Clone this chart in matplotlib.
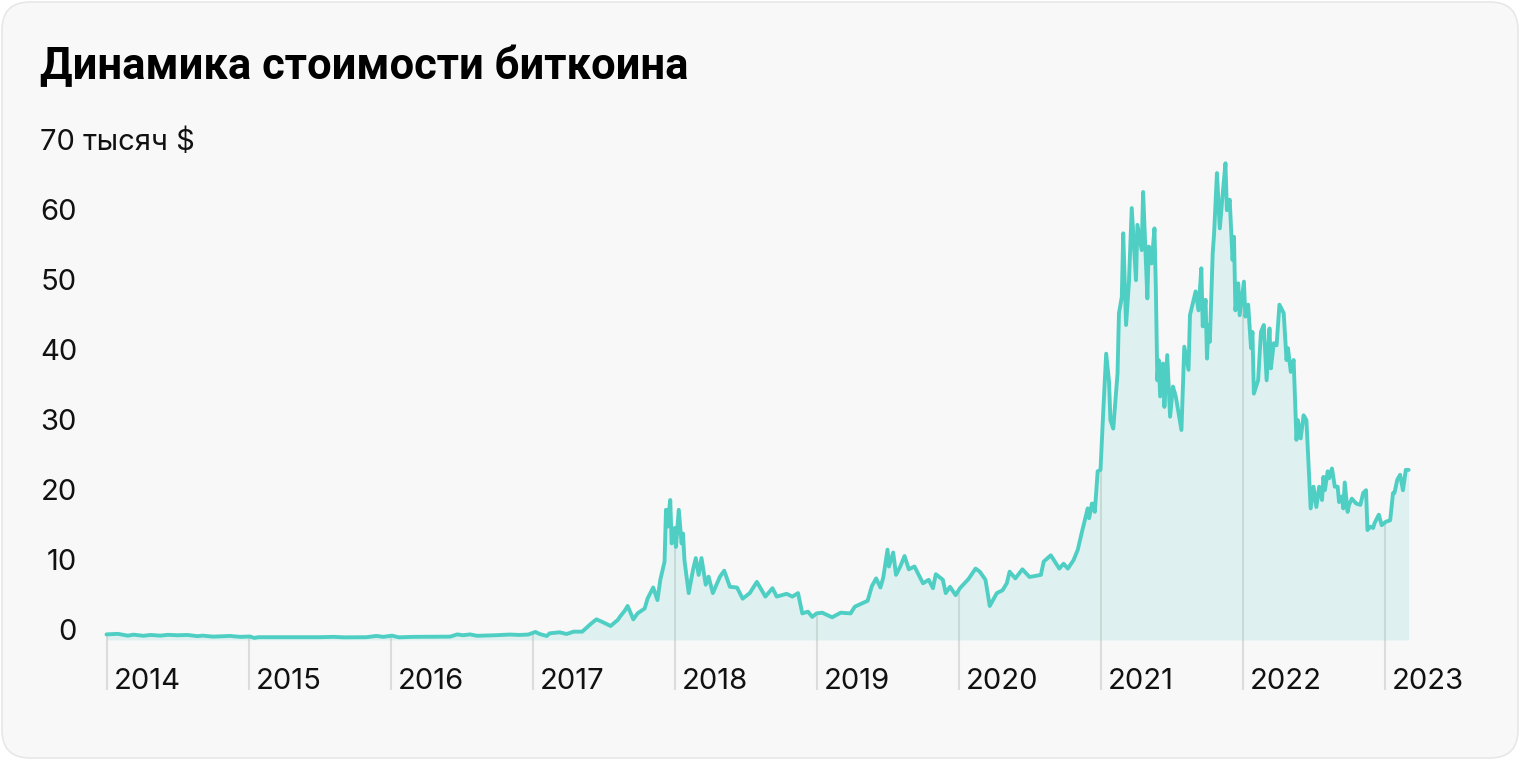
import numpy as np
import matplotlib
matplotlib.use("Agg")
import matplotlib.pyplot as plt
from matplotlib import transforms
from matplotlib.patches import FancyBboxPatch

# ---- data (decimal year, price in thousands of USD) ----
dates = [
    2014.00, 2014.08, 2014.15, 2014.19, 2014.26, 2014.31, 2014.38, 2014.43, 2014.50, 2014.57,
    2014.64, 2014.68, 2014.75, 2014.87, 2014.94, 2015.01, 2015.04, 2015.07, 2015.29, 2015.50,
    2015.60, 2015.67, 2015.83, 2015.90, 2015.95, 2016.01, 2016.06, 2016.16, 2016.42, 2016.47,
    2016.51, 2016.56, 2016.61, 2016.74, 2016.84, 2016.91, 2016.97, 2017.02, 2017.05, 2017.10,
    2017.12, 2017.19, 2017.24, 2017.29, 2017.35, 2017.41, 2017.45, 2017.49, 2017.55, 2017.60,
    2017.62, 2017.65, 2017.67, 2017.71, 2017.74, 2017.79, 2017.81, 2017.85, 2017.88, 2017.90,
    2017.93, 2017.94, 2017.95, 2017.97, 2017.98, 2018.00, 2018.01, 2018.03, 2018.05, 2018.06,
    2018.07, 2018.10, 2018.13, 2018.15, 2018.17, 2018.19, 2018.22, 2018.24, 2018.27, 2018.32,
    2018.35, 2018.39, 2018.44, 2018.48, 2018.53, 2018.58, 2018.64, 2018.69, 2018.72, 2018.79,
    2018.83, 2018.87, 2018.90, 2018.94, 2018.97, 2019.00, 2019.04, 2019.11, 2019.17, 2019.24,
    2019.27, 2019.36, 2019.39, 2019.42, 2019.45, 2019.47, 2019.50, 2019.51, 2019.54, 2019.56,
    2019.59, 2019.62, 2019.65, 2019.69, 2019.75, 2019.79, 2019.82, 2019.84, 2019.89, 2019.91,
    2019.94, 2019.98, 2020.01, 2020.07, 2020.12, 2020.15, 2020.19, 2020.22, 2020.27, 2020.31,
    2020.34, 2020.36, 2020.40, 2020.45, 2020.50, 2020.58, 2020.60, 2020.65, 2020.71, 2020.74,
    2020.77, 2020.81, 2020.84, 2020.87, 2020.91, 2020.92, 2020.94, 2020.96, 2020.98, 2021.00,
    2021.02, 2021.04, 2021.06, 2021.07, 2021.09, 2021.12, 2021.13, 2021.15, 2021.16, 2021.18,
    2021.20, 2021.22, 2021.25, 2021.26, 2021.29, 2021.30, 2021.33, 2021.34, 2021.36, 2021.38,
    2021.39, 2021.40, 2021.41, 2021.42, 2021.44, 2021.45, 2021.47, 2021.49, 2021.51, 2021.53,
    2021.57, 2021.59, 2021.62, 2021.63, 2021.65, 2021.67, 2021.69, 2021.71, 2021.72, 2021.74,
    2021.75, 2021.76, 2021.77, 2021.79, 2021.80, 2021.82, 2021.84, 2021.86, 2021.88, 2021.89,
    2021.91, 2021.93, 2021.94, 2021.95, 2021.97, 2021.98, 2022.01, 2022.02, 2022.04, 2022.06,
    2022.07, 2022.08, 2022.11, 2022.13, 2022.15, 2022.17, 2022.19, 2022.20, 2022.22, 2022.24,
    2022.26, 2022.29, 2022.31, 2022.32, 2022.34, 2022.36, 2022.38, 2022.39, 2022.41, 2022.43,
    2022.45, 2022.48, 2022.50, 2022.52, 2022.54, 2022.56, 2022.57, 2022.58, 2022.60, 2022.61,
    2022.63, 2022.65, 2022.67, 2022.68, 2022.70, 2022.71, 2022.72, 2022.74, 2022.75, 2022.77,
    2022.80, 2022.83, 2022.85, 2022.87, 2022.88, 2022.90, 2022.92, 2022.93, 2022.96, 2022.98,
    2023.01, 2023.04, 2023.06, 2023.07, 2023.09, 2023.11, 2023.13, 2023.15, 2023.17,
]
prices = [
    0.80, 0.88, 0.62, 0.76, 0.60, 0.72, 0.62, 0.74, 0.68, 0.72,
    0.55, 0.62, 0.48, 0.58, 0.45, 0.50, 0.30, 0.40, 0.40, 0.40,
    0.45, 0.38, 0.40, 0.58, 0.45, 0.62, 0.38, 0.45, 0.48, 0.80,
    0.68, 0.80, 0.60, 0.68, 0.78, 0.72, 0.78, 1.15, 0.86, 0.57,
    0.95, 1.10, 0.86, 1.19, 1.19, 2.29, 2.95, 2.60, 2.00, 2.86,
    3.43, 4.20, 4.86, 2.95, 3.81, 4.50, 5.90, 7.50, 5.70, 8.60,
    11.2, 18.6, 16.2, 20.0, 13.8, 16.0, 13.3, 18.6, 13.8, 15.2,
    11.4, 6.7, 10.0, 11.7, 9.3, 11.7, 7.9, 9.05, 6.7, 9.05,
    9.9, 7.6, 7.5, 5.9, 6.7, 8.3, 6.2, 7.4, 6.2, 6.6,
    6.2, 6.7, 3.8, 4.05, 3.3, 3.8, 3.9, 3.24, 3.9, 3.8,
    4.76, 5.6, 7.7, 8.8, 7.5, 8.9, 12.9, 10.5, 12.5, 9.3,
    10.5, 12.0, 10.1, 10.5, 8.1, 8.6, 7.4, 9.4, 8.6, 6.7,
    7.6, 6.4, 7.4, 8.7, 10.2, 9.76, 8.6, 4.86, 6.7, 7.1,
    8.1, 9.76, 8.8, 10.1, 9.0, 9.3, 11.2, 12.1, 10.2, 10.9,
    10.2, 11.4, 12.9, 15.5, 18.8, 17.4, 19.5, 18.3, 24.1, 24.3,
    32.9, 40.9, 36.9, 31.4, 30.2, 38.1, 46.7, 49.0, 58.1, 45.0,
    51.0, 61.7, 51.4, 59.3, 55.7, 64.0, 48.8, 56.2, 53.8, 58.8,
    50.0, 37.1, 40.0, 34.8, 39.5, 33.3, 40.7, 31.9, 36.2, 34.8,
    30.0, 41.9, 38.6, 46.4, 48.1, 49.8, 47.1, 53.1, 44.8, 48.6,
    40.2, 45.0, 42.6, 55.2, 58.1, 66.7, 58.8, 63.6, 68.1, 61.4,
    62.9, 54.3, 57.6, 47.1, 50.95, 46.4, 51.2, 46.2, 47.9, 41.7,
    44.0, 35.2, 37.1, 44.0, 45.0, 37.1, 44.5, 38.8, 42.4, 42.1,
    47.9, 46.7, 40.0, 41.7, 38.3, 40.0, 28.6, 31.4, 28.8, 32.1,
    31.4, 18.8, 21.9, 19.0, 21.9, 20.0, 23.3, 21.4, 24.1, 23.1,
    24.5, 21.9, 21.9, 19.7, 20.5, 18.8, 22.5, 18.3, 19.3, 20.2,
    19.5, 19.3, 21.0, 21.4, 15.7, 16.2, 16.0, 16.7, 17.9, 16.4,
    16.9, 17.1, 21.0, 21.0, 22.9, 23.6, 21.4, 24.3, 24.3,
]
years = list(range(2014, 2024))
y_ticks = [0, 10, 20, 30, 40, 50, 60]
y_top_label = "70 тысяч $"
title = "Динамика стоимости биткоина"

# ---- styling ----
W, H = 1520, 760
LINE = "#4fcfc4"
TITLE_FONT = "Roboto"
LABEL_FONT = "Inter"
LABEL_SIZE = 21

fig = plt.figure(figsize=(W / 100, H / 100), dpi=100)
fig.patch.set_facecolor("white")

# rounded card background (pixel coordinates)
r = 28
card = FancyBboxPatch((2 + r, 2 + r), W - 4 - 2 * r, H - 4 - 2 * r,
                      boxstyle=f"round,pad={r}", transform=transforms.IdentityTransform(),
                      facecolor="#f8f8f8", edgecolor="#e6e6e6", linewidth=1.1, zorder=-10)
fig.patches.append(card)

# axes spanning the whole figure; scale: 142 px per year, 7 px per thousand
ax = fig.add_axes([0, 0, 1, 1])
ax.set_zorder(5)
ax.patch.set_visible(False)
ax.set_xlim(2014 - 106.5 / 142, 2014 + (W - 106.5) / 142)
ax.set_ylim((640 - H) / 7, 640 / 7)
ax.axis("off")

t = np.array(dates)
v = np.array(prices)

y_bottom = -50 / 7  # tick lines go down to here
ax.vlines(years, y_bottom, np.interp(years, t, v), color="#dcdcdc", lw=1.5, zorder=1)
ax.fill_between(t, 0, v, color=LINE, alpha=0.15, lw=0, zorder=2)
ax.plot(t, v, color=LINE, lw=2.8, solid_joinstyle="round", solid_capstyle="round", zorder=4)

# y labels
bt = transforms.blended_transform_factory(fig.transFigure, ax.transData)
for val in y_ticks:
    ax.text(77 / W, val, str(val), transform=bt, ha="right", va="baseline",
            fontsize=LABEL_SIZE, family=LABEL_FONT, color="#111111")
ax.text(40 / W, 70, y_top_label, transform=bt, ha="left", va="baseline",
        fontsize=LABEL_SIZE, family=LABEL_FONT, color="#111111")

# x labels
off = transforms.offset_copy(ax.transData, fig, x=7, y=0, units="dots")
for yr in years:
    ax.text(yr, -49 / 7, str(yr), transform=off, ha="left", va="baseline",
            fontsize=LABEL_SIZE, family=LABEL_FONT, color="#111111")

fig.text(40 / W, 1 - 79 / H, title, ha="left", va="baseline", fontsize=31.4,
         fontweight="bold", family=TITLE_FONT, color="#000000")

fig.savefig("out.png", dpi=100, facecolor="white")
